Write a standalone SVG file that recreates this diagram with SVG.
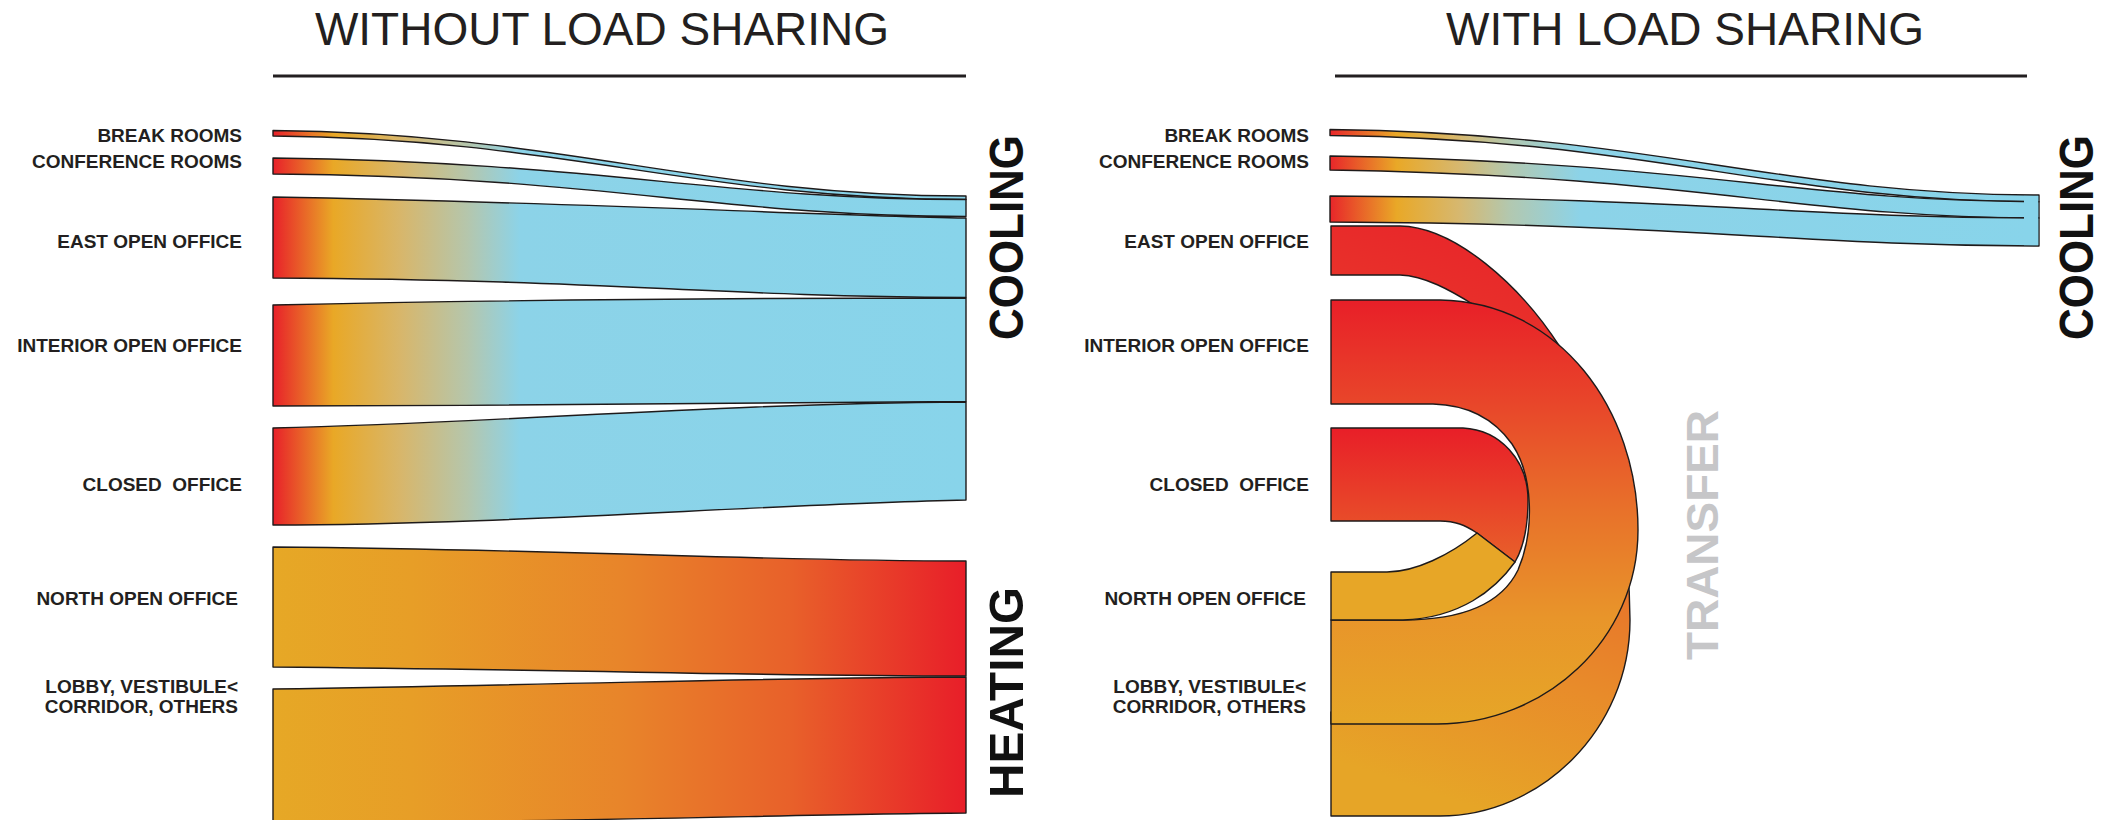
<svg xmlns="http://www.w3.org/2000/svg" width="2110" height="820" viewBox="0 0 2110 820">
<defs>
<style>
.title{font-family:"Liberation Sans",Arial,sans-serif;font-size:46px;fill:#231f20;text-anchor:middle}
.lbl{font-family:"Liberation Sans",Arial,sans-serif;font-size:19px;font-weight:bold;fill:#231f20;text-anchor:end}
.big{font-family:"Liberation Sans",Arial,sans-serif;font-size:49px;font-weight:bold;fill:#111}
.xfer{font-family:"Liberation Sans",Arial,sans-serif;font-size:44px;font-weight:bold;fill:#c6c6c8}
.band{stroke:#1e1a1a;stroke-width:1.4;stroke-linejoin:round}
.rule{stroke:#231f20;stroke-width:3}
</style>
<linearGradient id="gCoolL" gradientUnits="userSpaceOnUse" x1="273" y1="0" x2="966" y2="0">
<stop offset="0" stop-color="#e8202a"/>
<stop offset="0.087" stop-color="#e9a826"/>
<stop offset="0.183" stop-color="#d8b66a"/>
<stop offset="0.28" stop-color="#b5c6ac"/>
<stop offset="0.356" stop-color="#8cd3e8"/>
<stop offset="1" stop-color="#88d4ea"/>
</linearGradient>
<linearGradient id="gHeatL" gradientUnits="userSpaceOnUse" x1="273" y1="0" x2="966" y2="0">
<stop offset="0" stop-color="#e6a826"/>
<stop offset="0.2" stop-color="#e79e27"/>
<stop offset="0.5" stop-color="#e8852a"/>
<stop offset="0.75" stop-color="#e8602a"/>
<stop offset="1" stop-color="#e81e29"/>
</linearGradient>
<linearGradient id="gCoolR" gradientUnits="userSpaceOnUse" x1="1330" y1="0" x2="2039" y2="0">
<stop offset="0" stop-color="#e8262a"/>
<stop offset="0.094" stop-color="#e9a827"/>
<stop offset="0.183" stop-color="#d6b870"/>
<stop offset="0.254" stop-color="#b2c8b0"/>
<stop offset="0.353" stop-color="#8cd3e8"/>
<stop offset="1" stop-color="#88d4ea"/>
</linearGradient>
<linearGradient id="gEast" gradientUnits="userSpaceOnUse" x1="1600" y1="226" x2="1400" y2="815">
<stop offset="0" stop-color="#e8202a"/>
<stop offset="0.2" stop-color="#e8302a"/>
<stop offset="0.5" stop-color="#e8702a"/>
<stop offset="0.72" stop-color="#e88c2a"/>
<stop offset="0.95" stop-color="#e6a527"/>
</linearGradient>
<linearGradient id="gInt" gradientUnits="userSpaceOnUse" x1="0" y1="300" x2="0" y2="724">
<stop offset="0" stop-color="#e81f28"/>
<stop offset="0.25" stop-color="#e8472a"/>
<stop offset="0.5" stop-color="#e8722a"/>
<stop offset="0.75" stop-color="#e8952a"/>
<stop offset="1" stop-color="#e6a627"/>
</linearGradient>
<linearGradient id="gClosed" gradientUnits="userSpaceOnUse" x1="0" y1="428" x2="0" y2="565">
<stop offset="0" stop-color="#e81e28"/>
<stop offset="1" stop-color="#e8622a"/>
</linearGradient>
</defs>
<rect width="2110" height="820" fill="#ffffff"/>

<g id="header-left">
<text class="title" x="602" y="45">WITHOUT LOAD SHARING</text>
<line class="rule" x1="273" y1="76" x2="966" y2="76"/>
</g>
<g id="header-right">
<text class="title" x="1685" y="45">WITH LOAD SHARING</text>
<line class="rule" x1="1335" y1="76" x2="2027" y2="76"/>
</g>

<g id="connectors">
<g id="flows-without">
<path class="band" fill="url(#gCoolL)" d="M273,130.5 C560,133 700,196 966,196 L966,199.5 C700,199.5 560,138 273,136 Z"/>
<path class="band" fill="url(#gCoolL)" d="M273,158 C600,162 720,199.5 966,199.5 L966,216.5 C720,216.5 600,176 273,174 Z"/>
<path class="band" fill="url(#gCoolL)" d="M273,197 C600,203 800,215 966,218 L966,297.5 C700,296 620,280 273,278 Z"/>
<path class="band" fill="url(#gCoolL)" d="M273,305 C500,300 700,298 966,298 L966,401.5 C700,403 500,406 273,406 Z"/>
<path class="band" fill="url(#gCoolL)" d="M273,428 C520,422 700,404 966,402 L966,500 C750,505 500,525 273,525 Z"/>
<path class="band" fill="url(#gHeatL)" d="M273,547 C600,550 750,561 966,561 L966,676 C750,676 600,670 273,667 Z"/>
<path class="band" fill="url(#gHeatL)" d="M273,689 C600,684 800,677 966,677 L966,813 C800,814 600,822 273,823 Z"/>
</g>
<g id="flows-with">
<path class="band" fill="url(#gCoolR)" d="M1330,129.5 C1650,133 1780,195 2039,195 L2039,201.7 C1780,201.7 1650,139 1330,135.5 Z"/>
<path class="band" fill="url(#gCoolR)" d="M1330,156 C1700,162 1800,201.7 2039,201.7 L2039,218 C1800,218 1700,176 1330,170 Z"/>
<path class="band" fill="url(#gCoolR)" d="M1330,196 C1700,198 1800,218 2039,218 L2039,246 C1800,246 1700,224 1330,222 Z"/>
<rect x="2024" y="195.9" width="14.2" height="49.3" fill="#88d4ea"/>
<path class="band" fill="url(#gEast)" d="M1331,226 H1400 C1455,227 1520,285 1560,347 C1600,420 1630,520 1630,620 C1630,730 1540,816 1440,816 H1331 V712 H1437 C1520,700 1600,640 1600,540 C1600,440 1540,330 1474,305 C1450,290 1425,276 1400,275 H1331 Z"/>
<path class="band" fill="url(#gInt)" d="M1331,300 H1440 C1560,302 1638,410 1638,530 C1638,640 1545,724 1437,724 H1331 V620 H1403 C1455,620 1500,607 1518,570 C1535,530 1533,475 1512,444 C1495,420 1470,405 1433,404 H1331 Z"/>
<path class="band" fill="url(#gClosed)" d="M1331,428 H1463 C1500,430 1528,460 1528,500 C1528,530 1522,550 1515,562 L1477,533 C1465,525 1455,521 1440,521 H1331 Z"/>
<path class="band" fill="#e7a627" d="M1331,572 H1387 C1415,572 1450,555 1477,533 L1515,562 C1495,590 1460,618 1403,620 H1331 Z"/>
</g>
</g>

<g id="node-cooling-left"><text class="big" transform="translate(1023,340) rotate(-90)" textLength="205" lengthAdjust="spacingAndGlyphs">COOLING</text></g>
<g id="node-heating-left"><text class="big" transform="translate(1023,798) rotate(-90)" textLength="211" lengthAdjust="spacingAndGlyphs">HEATING</text></g>
<g id="node-cooling-right"><text class="big" transform="translate(2093,340) rotate(-90)" textLength="205" lengthAdjust="spacingAndGlyphs">COOLING</text></g>
<g id="node-transfer"><text class="xfer" transform="translate(1718,660) rotate(-90)" textLength="250" lengthAdjust="spacingAndGlyphs">TRANSFER</text></g>

<g id="labels-left">
<text class="lbl" x="242" y="141.5">BREAK ROOMS</text>
<text class="lbl" x="242" y="168.3">CONFERENCE ROOMS</text>
<text class="lbl" x="242" y="248">EAST OPEN OFFICE</text>
<text class="lbl" x="242" y="352">INTERIOR OPEN OFFICE</text>
<text class="lbl" x="242" y="491" xml:space="preserve">CLOSED  OFFICE</text>
<text class="lbl" x="238" y="605">NORTH OPEN OFFICE</text>
<text class="lbl" x="238" y="693">LOBBY, VESTIBULE&lt;</text>
<text class="lbl" x="238" y="713">CORRIDOR, OTHERS</text>
</g>
<g id="labels-right">
<text class="lbl" x="1309" y="141.5">BREAK ROOMS</text>
<text class="lbl" x="1309" y="168.3">CONFERENCE ROOMS</text>
<text class="lbl" x="1309" y="248">EAST OPEN OFFICE</text>
<text class="lbl" x="1309" y="352">INTERIOR OPEN OFFICE</text>
<text class="lbl" x="1309" y="491" xml:space="preserve">CLOSED  OFFICE</text>
<text class="lbl" x="1306" y="605">NORTH OPEN OFFICE</text>
<text class="lbl" x="1306" y="693">LOBBY, VESTIBULE&lt;</text>
<text class="lbl" x="1306" y="713">CORRIDOR, OTHERS</text>
</g>
</svg>
